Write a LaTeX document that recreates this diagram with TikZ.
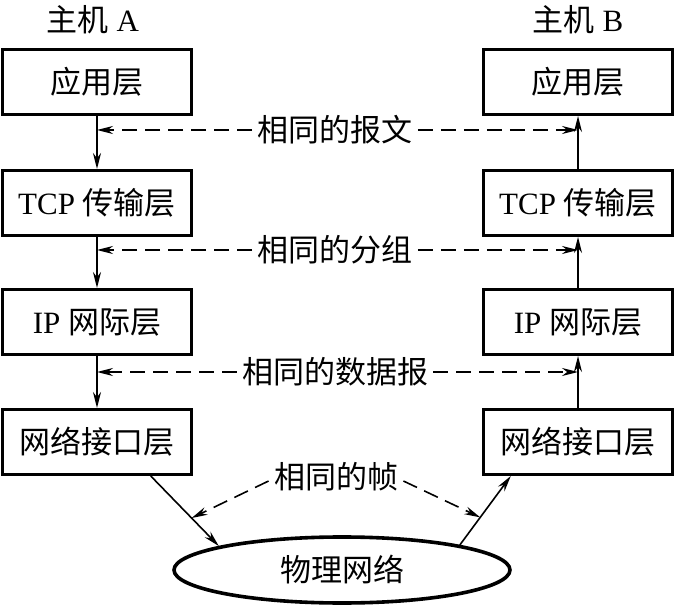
\documentclass[tikz,border=0pt]{standalone}
\usepackage{fontspec}
\setmainfont{Liberation Serif}
\newfontfamily\cjk{Noto Sans CJK SC}
\newcommand{\zhtxt}[1]{{\cjk #1}}
\usetikzlibrary{arrows.meta,positioning,calc,shapes.geometric}

\begin{document}
\begin{tikzpicture}[x=0.5pt,y=0.5pt,
  layer/.style={rectangle,draw,line width=1.5pt,minimum width=94.5pt,
                minimum height=32.5pt,inner sep=0pt,
                font=\fontsize{15.5}{18}\selectfont},
  host/.style={font=\fontsize{15.5}{18}\selectfont},
  peer/.style={font=\fontsize{15.5}{18}\selectfont,inner sep=2.5pt},
  flow/.style={line width=0.9pt,-{Stealth[length=8pt,width=4pt]}},
  same/.style={line width=0.8pt,dash pattern=on 7.5pt off 4pt,
               -{Stealth[length=8pt,width=4pt]}},
]
  \useasboundingbox (0,0) rectangle (675,606);

  %% host A
  \node[host](HA) at (93,586) {\zhtxt{主机} A};
  \node[layer](A1) at (97,524) {\zhtxt{应用层}};
  \node[layer](A2) at (97,403) {TCP \zhtxt{传输层}};
  \node[layer](A3) at (97,284) {IP \zhtxt{网际层}};
  \node[layer](A4) at (97,164) {\zhtxt{网络接口层}};

  %% host B
  \node[host](HB) at (578,586) {\zhtxt{主机} B};
  \node[layer](B1) at (578,524) {\zhtxt{应用层}};
  \node[layer](B2) at (578,403) {TCP \zhtxt{传输层}};
  \node[layer](B3) at (578,284) {IP \zhtxt{网际层}};
  \node[layer](B4) at (578,164) {\zhtxt{网络接口层}};

  %% physical network
  \node[ellipse,draw,line width=1.8pt,minimum width=168pt,minimum height=33pt,
        font=\fontsize{15.5}{18}\selectfont](net) at (342,36) {\zhtxt{物理网络}};

  %% down the stack of A, up the stack of B
  \draw[flow] (A1) -- (A2);
  \draw[flow] (A2) -- (A3);
  \draw[flow] (A3) -- (A4);
  \draw[flow] (B4) -- (B3);
  \draw[flow] (B3) -- (B2);
  \draw[flow] (B2) -- (B1);

  \coordinate (outA) at ($(A4.south west)!0.78!(A4.south east)$);
  \coordinate (inB) at ($(B4.south west)!0.15!(B4.south east)$);
  \draw[flow,line width=0.8pt] (outA) -- (net.169) coordinate[pos=0.6] (midA);
  \draw[flow,line width=0.8pt] (net.12) -- (inB) coordinate[pos=0.4] (midB);

  %% peer labels
  \node[peer](m1) at (335,476) {\zhtxt{相同的报文}};
  \node[peer](m2) at (335,356) {\zhtxt{相同的分组}};
  \node[peer](m3) at (335,234) {\zhtxt{相同的数据报}};
  \node[peer](m4) at (336,129) {\zhtxt{相同的帧}};

  \foreach \m/\a/\b in {m1/A1/B1,m2/A2/B2,m3/A3/B3}{
    \draw[same] (\m.west) -- (\m.west -| \a.south);
    \draw[same] (\m.east) -- (\m.east -| \b.south);
  }
  \draw[same] ($(m4.west)+(0,-4)$) -- (midA);
  \draw[same] ($(m4.east)+(0,-4)$) -- (midB);

\end{tikzpicture}
\end{document}
